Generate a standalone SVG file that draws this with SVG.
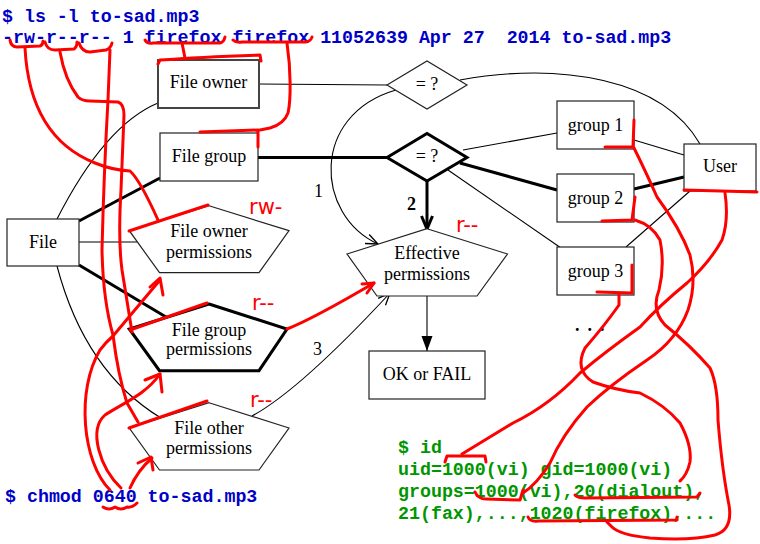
<svg xmlns="http://www.w3.org/2000/svg" width="760" height="544" viewBox="0 0 760 544">
<style>
.bg{fill:#fff}
.box{fill:#fff;stroke:#222;stroke-width:1.2}
.thk{fill:#fff;stroke:#000;stroke-width:3}
.t{font-family:"Liberation Serif","Times New Roman",serif;font-size:18px;fill:#000;text-anchor:middle}
.num{font-family:"Liberation Serif","Times New Roman",serif;font-size:18px;fill:#000}
.mono{font-family:"Liberation Mono","Courier New",monospace;font-size:18.3px;font-weight:bold;white-space:pre}
.blue{fill:#0000c8}
.green{fill:#009600}
.ln{fill:none;stroke:#000;stroke-width:1.1}
.tk{fill:none;stroke:#000;stroke-width:3}
.red{fill:none;stroke:#f00;stroke-width:3;stroke-linecap:round;stroke-linejoin:round}
.rt{font-family:"DejaVu Sans",sans-serif;font-size:21px;fill:#f00}
</style>
<defs>
<marker id="open" markerUnits="userSpaceOnUse" markerWidth="16" markerHeight="14" refX="14" refY="7" orient="auto"><path d="M2,2 L14,7 L2,12" fill="none" stroke="#000" stroke-width="1.3"/></marker>
<marker id="openthk" markerUnits="userSpaceOnUse" markerWidth="18" markerHeight="16" refX="15" refY="8" orient="auto"><path d="M2,2.5 L15,8 L2,13.5" fill="none" stroke="#000" stroke-width="3"/></marker>
<marker id="solid" markerUnits="userSpaceOnUse" markerWidth="16" markerHeight="14" refX="15" refY="6" orient="auto"><path d="M0,0.5 L15,6 L0,11.5 z" fill="#000"/></marker>
</defs>
<rect class="bg" x="0" y="0" width="760" height="544"/>

<g id="connectors">
<path class="ln" d="M259,84 L387,85"/>
<path class="tk" d="M258,157.5 L387,157.5"/>
<path class="tk" d="M79,221 L160,178"/>
<path class="ln" d="M79,242 L137,242"/>
<path class="tk" d="M79,265 L166,317"/>
<path class="ln" d="M57,219 Q105,125 158,103"/>
<path class="ln" d="M57,266 Q85,372 161,418"/>
<path class="ln" d="M460,80 C560,62 662,78 700,144"/>
<path class="ln" d="M396,90 C310,115 315,215 378,244" marker-end="url(#open)"/>
<path class="tk" d="M427,181 L427,229" marker-end="url(#openthk)"/>
<path class="ln" d="M252,416 Q300,390 390,293" marker-end="url(#open)"/>
<path class="ln" d="M463,150 L557,133"/>
<path class="tk" d="M460,163 L557,190"/>
<path class="ln" d="M448,170 L561,248"/>
<path class="ln" d="M634,140 L684,155"/>
<path class="tk" d="M634,189 L684,177"/>
<path class="ln" d="M626,247 L690,191"/>
<path class="ln" d="M427,296 L427,351" marker-end="url(#solid)"/>
<text class="num" x="314" y="197">1</text>
<text class="num" x="407" y="210" font-weight="bold">2</text>
<text class="num" x="313" y="355">3</text>
</g>

<g id="file-owner"><rect class="box" x="158" y="60" width="101" height="48" style="stroke:#444;stroke-width:2"/><text class="t" x="208.5" y="88">File owner</text></g>
<g id="file-group"><rect class="box" x="160" y="133" width="98" height="48"/><text class="t" x="209" y="162">File group</text></g>
<g id="file"><rect class="box" x="7" y="219" width="72" height="47"/><text class="t" x="43" y="248">File</text></g>
<g id="file-owner-permissions"><polygon class="box" points="209,205.7 289,230.7 259,272.7 159.5,272.7 129.3,230.7"/><text class="t" x="209" y="237">File owner</text><text class="t" x="209" y="258">permissions</text></g>
<g id="file-group-permissions"><polygon class="thk" points="209,304 287,329 259,370.7 159.5,370.7 129.3,329"/><text class="t" x="209" y="336">File group</text><text class="t" x="209" y="355">permissions</text></g>
<g id="file-other-permissions"><polygon class="box" points="209,402.7 289,428 259,470 159.5,470 129.3,428"/><text class="t" x="209" y="434">File other</text><text class="t" x="209" y="454">permissions</text></g>
<g id="check-owner"><polygon class="box" points="387,85 427,61 467,85 427,109"/><text class="t" x="427" y="90">= ?</text></g>
<g id="check-group"><polygon class="thk" points="387,157.5 427,133.5 467,157.5 427,181"/><text class="t" x="427" y="162">= ?</text></g>
<g id="effective"><polygon class="box" points="427,228.7 507.5,254 477,296 377,296 347,254"/><text class="t" x="427" y="259">Effective</text><text class="t" x="427" y="280">permissions</text></g>
<g id="ok-fail"><rect class="box" x="369" y="351" width="116" height="48"/><text class="t" x="427" y="380">OK or FAIL</text></g>
<g id="group1"><rect class="box" x="557" y="101" width="77" height="48"/><text class="t" x="595.5" y="131">group 1</text></g>
<g id="group2"><rect class="box" x="557" y="174" width="77" height="48"/><text class="t" x="595.5" y="204">group 2</text></g>
<g id="group3"><rect class="box" x="557" y="247" width="77" height="48"/><text class="t" x="595.5" y="277">group 3</text></g>
<g id="user"><rect class="box" x="684" y="144" width="72" height="47"/><text class="t" x="720" y="172">User</text></g>
<g id="more"><text class="num" x="575" y="331" font-weight="bold" letter-spacing="8">...</text></g>

<g id="terminal">
<text class="mono blue" x="2" y="22">$ ls -l to-sad.mp3</text>
<text class="mono blue" x="2" y="43">-rw-r--r-- 1 firefox firefox 11052639 Apr 27  2014 to-sad.mp3</text>
<text class="mono blue" x="5" y="502">$ chmod 0640 to-sad.mp3</text>
<text class="mono green" x="398" y="453">$ id</text>
<text class="mono green" x="398" y="475">uid=1000(vi) gid=1000(vi)</text>
<text class="mono green" x="398" y="497">groups=1000(vi),20(dialout),</text>
<text class="mono green" x="398" y="519">21(fax),...,1020(firefox),...</text>
</g>

<g id="annotations">
<path class="red" d="M10,40 Q11,47 17,47 L40,46 Q43,45 43,41"/>
<path class="red" d="M45,42 Q47,50 55,50 L74,49 Q77,47 77,42"/>
<path class="red" d="M79,43 Q82,52 90,52 L106,50 Q111,48 112,43"/>
<path class="red" d="M145,40 Q147,44 153,43 L220,43 Q224,42 225,37"/>
<path class="red" d="M233,40 Q236,43 242,42 L306,42 Q311,41 312,37"/>
<path class="red" d="M182,43 L185,58"/>
<path class="red" d="M158,64 L160,60 Q200,57 260,55 L261,61"/>
<path class="red" d="M287,43 C291,70 291,100 288,113 Q284,124 270,128 L260,130"/>
<path class="red" d="M200,132 L258,130 L258,147"/>
<path class="red" d="M25,48 C28,105 50,145 95,163 Q112,170 130,171 Q140,180 158,220"/>
<path class="red" d="M129,231 L208,205"/>
<path class="red" d="M60,52 Q65,80 78,97 Q82,101 90,101 L118,102 Q124,104 124,115 L121,190 Q118,240 122,270 L132,332"/>
<path class="red" d="M130,330 L207,303"/>
<path class="red" d="M110,50 L108,100 Q104,170 102,250 Q103,300 113,335 Q118,375 127,403 L138,422"/>
<path class="red" d="M129,428 L207,401"/>
<path class="red" d="M110,490 C82,462 76,390 100,350 Q106,342 113,336 L160,280"/>
<path class="red" d="M150,287 L160,278 L163,295"/>
<path class="red" d="M121,488 C100,468 88,430 105,415 C125,402 145,395 160,374"/>
<path class="red" d="M145,380 L160,374 L162,392"/>
<path class="red" d="M130,488 Q138,470 152,458"/>
<path class="red" d="M138,463 L151,457 L153,470"/>
<path class="red" d="M103,507 Q109,511 115,507 Q121,511 127,507 Q132,508 137,503"/>
<path class="red" d="M287,329 C310,320 345,300 374,283"/>
<path class="red" d="M362,284 L374,283 L367,293"/>
<path class="red" d="M605,147 L633,147 L634,120"/>
<path class="red" d="M634,148 Q645,170 657,197 Q680,228 690,255 Q697,283 688,310 Q677,340 647,360 Q610,385 587,407 Q562,435 550,463 Q537,484 523,493"/>
<path class="red" d="M602,221 L632,220 L635,197"/>
<path class="red" d="M635,220 Q652,225 660,240 Q665,265 659,290 Q651,310 665,325 Q690,345 710,368 Q718,385 718,420 Q722,470 729,505 Q733,530 715,535 Q690,541 650,538 Q620,535 612,527 L607,522"/>
<path class="red" d="M597,292 L632,293 L632,265"/>
<path class="red" d="M619,293 L619,305 Q605,325 585,348 Q574,370 593,382 Q615,390 640,393 Q665,405 680,423 Q692,445 690,462 Q687,475 680,481"/>
<path class="red" d="M684,190 L757,192"/>
<path class="red" d="M725,193 Q729,220 722,240 Q710,262 687,283 Q660,305 640,327 Q605,352 580,373 Q550,405 513,423 Q485,440 462,454"/>
<path class="red" d="M445,462 L447,456 L485,456 L486,462"/>
<path class="red" d="M475,492 Q478,499 486,499 L520,500 L523,490"/>
<path class="red" d="M575,495 Q577,498 585,498 L697,497 L700,493"/>
<path class="red" d="M528,517 Q530,522 538,521 L677,520 L677,517"/>
<text class="rt" x="249" y="214">rw-</text>
<text class="rt" x="456" y="232">r--</text>
<text class="rt" x="252" y="310">r--</text>
<text class="rt" x="250" y="407">r--</text>
</g>
</svg>
